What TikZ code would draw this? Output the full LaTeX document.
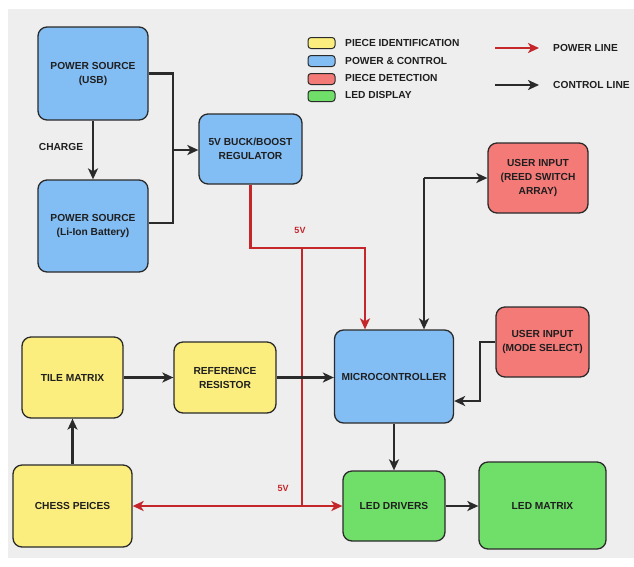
\documentclass[tikz,border=0pt]{standalone}
\usepackage{fontspec}
\setmainfont{Liberation Sans}
\usetikzlibrary{arrows.meta}
\definecolor{bgc}{HTML}{EEEEEE}
\definecolor{cblue}{HTML}{82BDF4}
\definecolor{cyel}{HTML}{FBEE7E}
\definecolor{cred}{HTML}{F47A78}
\definecolor{cgrn}{HTML}{70DF6A}
\definecolor{pline}{HTML}{C4262A}
\definecolor{kline}{HTML}{2A2A2A}
\tikzset{
  blk/.style={draw=kline, line width=1.3pt, rounded corners=9pt, align=center,
    font=\fontsize{10.2}{14}\selectfont\bfseries, text=black!88, inner sep=2pt},
  ctl/.style={draw=kline, line width=2.2pt, -{Stealth[length=11pt,width=10pt,inset=3pt]}},
  kl/.style={draw=kline, line width=2.2pt},
  pwr/.style={draw=pline, line width=2.2pt, -{Stealth[length=11pt,width=10pt,inset=3pt]}},
  pl/.style={draw=pline, line width=2.2pt},
  swatch/.style={draw=kline, line width=1pt, rounded corners=3pt, minimum width=27pt, minimum height=11pt, inner sep=0pt},
  legtxt/.style={anchor=west, font=\fontsize{10.2}{12}\selectfont\bfseries, text=black!88, inner sep=0pt},
  vlab/.style={font=\fontsize{9}{11}\selectfont\bfseries, text=pline, inner sep=0pt}
}
\begin{document}
\begin{tikzpicture}[x=1pt,y=-1pt]
\useasboundingbox (0,0) rectangle (634,566);
\fill[white] (0,0) rectangle (634,566);
\fill[bgc] (8,9) rectangle (634,558);

% blocks
\node[blk, fill=cblue, minimum width=110pt, minimum height=93pt] (usb) at (93,73.5) {POWER SOURCE\\(USB)};
\node[blk, fill=cblue, minimum width=110pt, minimum height=92pt] (bat) at (93,226) {POWER SOURCE\\(Li-Ion Battery)};
\node[blk, fill=cblue, minimum width=103pt, minimum height=70pt] (reg) at (250.5,149) {5V BUCK/BOOST\\REGULATOR};
\node[blk, fill=cred, minimum width=100pt, minimum height=70pt] (reed) at (538,178) {USER INPUT\\(REED SWITCH\\ARRAY)};
\node[blk, fill=cblue, minimum width=119pt, minimum height=93pt] (micro) at (394,376.5) {MICROCONTROLLER};
\node[blk, fill=cred, minimum width=93pt, minimum height=70pt] (mode) at (542.5,342) {USER INPUT\\(MODE SELECT)};
\node[blk, fill=cgrn, minimum width=102pt, minimum height=70pt] (drv) at (394,506) {LED DRIVERS};
\node[blk, fill=cgrn, minimum width=127pt, minimum height=87pt] (mat) at (542.5,505.5) {LED MATRIX};
\node[blk, fill=cyel, minimum width=101pt, minimum height=81pt] (tile) at (72.5,377.5) {TILE MATRIX};
\node[blk, fill=cyel, minimum width=102pt, minimum height=71pt] (ref) at (225,377.5) {REFERENCE\\RESISTOR};
\node[blk, fill=cyel, minimum width=119pt, minimum height=82pt] (chess) at (72.5,506) {CHESS PEICES};

% legend
\node[swatch, fill=cyel] (s1) at (321.5,43) {};
\node[swatch, fill=cblue] (s2) at (321.5,61) {};
\node[swatch, fill=cred] (s3) at (321.5,79) {};
\node[swatch, fill=cgrn] (s4) at (321.5,96) {};
\node[legtxt] (t1) at (345,43) {PIECE IDENTIFICATION};
\node[legtxt] (t2) at (345,61) {POWER \& CONTROL};
\node[legtxt] (t3) at (345,78) {PIECE DETECTION};
\node[legtxt] (t4) at (345,95) {LED DISPLAY};
\coordinate (lp0) at (495,48);
\coordinate (lp1) at (539,48);
\coordinate (lk0) at (495,85);
\coordinate (lk1) at (539,85);
\draw[pwr] (lp0) -- (lp1);
\draw[ctl] (lk0) -- (lk1);
\node[legtxt] (lt1) at (553,48) {POWER LINE};
\node[legtxt] (lt2) at (553,85) {CONTROL LINE};

% power source merge
\coordinate (j1) at (173,150);
\draw[kl] (usb.east) -| (j1);
\draw[kl] (bat.east |- 0,223) -| (j1);
\draw[ctl] (j1) -- (j1 -| reg.west);
\draw[ctl] (usb.south) -- (bat.north);
\node[font=\fontsize{10.2}{12}\selectfont\bfseries, text=black!88] (chg) at (61,147) {CHARGE};

% power lines
\coordinate (r1) at (365,248);
\coordinate (r2) at (302,248);
\coordinate (r3) at (302,506);
\draw[pwr] (reg.south) |- (r1) -- (r1 |- micro.north);
\draw[pl] (r2) -- (r3);
\draw[pwr] (r3) -- (chess.east);
\draw[pwr] (r3) -- (drv.west);
\node[vlab] (v1) at (300,230) {5V};
\node[vlab] (v2) at (283,488) {5V};

% control lines
\coordinate (c1) at (424,178);
\draw[ctl] (c1) -- (reed.west);
\draw[ctl] (c1) -- (c1 |- micro.north);
\coordinate (m1) at (480,401);
\draw[ctl] (mode.west) -| (m1) -- (m1 -| micro.east);
\draw[ctl] (micro.south) -- (drv.north);
\draw[ctl] (drv.east) -- (drv.east -| mat.west);
\draw[ctl] (tile.east) -- (ref.west);
\draw[ctl] (ref.east) -- (ref.east -| micro.west);
\draw[ctl] (chess.north) -- (tile.south);
\end{tikzpicture}
\end{document}
